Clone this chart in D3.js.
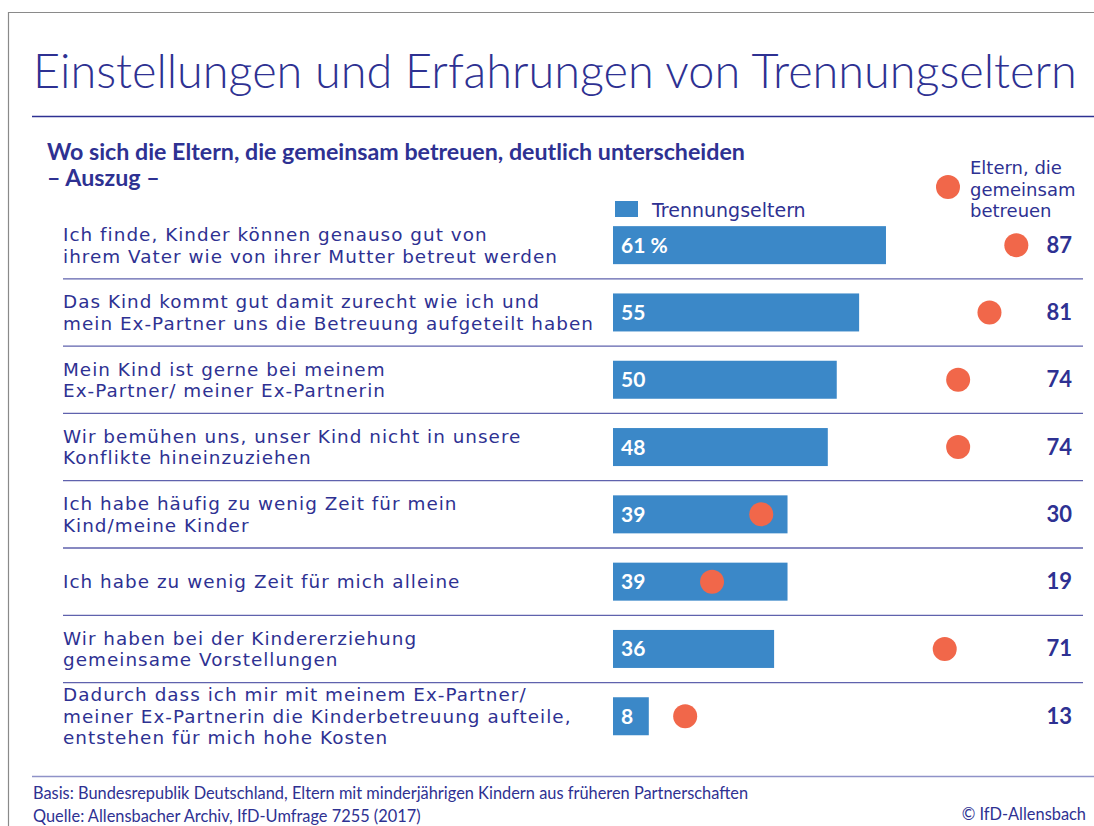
<!DOCTYPE html>
<html>
<head>
<meta charset="utf-8">
<script src="https://cdn.jsdelivr.net/npm/d3@7"></script>
<style>
  body { margin: 0; background: #fff; }
  text { font-family: Lato, "Open Sans", sans-serif; }
  .wide { font-family: "DejaVu Sans", sans-serif; }
</style>
</head>
<body>
<div id="chart"></div>
<script>
// chart data
var statements = [
  ["Ich finde, Kinder können genauso gut von", "ihrem Vater wie von ihrer Mutter betreut werden"],
  ["Das Kind kommt gut damit zurecht wie ich und", "mein Ex-Partner uns die Betreuung aufgeteilt haben"],
  ["Mein Kind ist gerne bei meinem", "Ex-Partner/ meiner Ex-Partnerin"],
  ["Wir bemühen uns, unser Kind nicht in unsere", "Konflikte hineinzuziehen"],
  ["Ich habe häufig zu wenig Zeit für mein", "Kind/meine Kinder"],
  ["Ich habe zu wenig Zeit für mich alleine"],
  ["Wir haben bei der Kindererziehung", "gemeinsame Vorstellungen"],
  ["Dadurch dass ich mir mit meinem Ex-Partner/", "meiner Ex-Partnerin die Kinderbetreuung aufteile,", "entstehen für mich hohe Kosten"]
];
var trennungseltern = [61, 55, 50, 48, 39, 39, 36, 8];
var gemeinsam = [87, 81, 74, 74, 30, 19, 71, 13];
var legendLines = ["Eltern, die", "gemeinsam", "betreuen"];

var svgWidth = 1094;
var svgHeight = 826;

var dark = "#2e3192";
var barColor = "#3b88c8";
var dotColor = "#f1674a";
var ruleColor = "#5f62ad";

var svg = d3.select("#chart")
  .append("svg")
  .attr("width", svgWidth)
  .attr("height", svgHeight);

// squeeze a text element to a wanted width by changing its font size
function fitWidth(sel, target) {
  var size = parseFloat(sel.style("font-size"));
  var w = sel.node().getComputedTextLength();
  sel.style("font-size", (size * target / w) + "px");
}

// frame
svg.append("path")
  .attr("d", "M8.5,826 V12.5 H1094")
  .attr("fill", "none")
  .attr("stroke", "#8a8a8a")
  .attr("stroke-width", 1.2);

// title
var title = svg.append("text")
  .attr("x", 33)
  .attr("y", 88)
  .style("font-size", "46px")
  .style("font-weight", 300)
  .style("fill", dark)
  .text("Einstellungen und Erfahrungen von Trennungseltern");
fitWidth(title, 1044);

svg.append("line")
  .attr("x1", 32).attr("x2", 1094)
  .attr("y1", 116.5).attr("y2", 116.5)
  .attr("stroke", dark)
  .attr("stroke-width", 1.5);

// subtitle
var sub = svg.append("text")
  .attr("x", 47)
  .attr("y", 160)
  .style("font-size", "19px")
  .style("font-weight", 700)
  .style("fill", dark)
  .text("Wo sich die Eltern, die gemeinsam betreuen, deutlich unterscheiden");
fitWidth(sub, 698);

svg.append("text")
  .attr("x", 47)
  .attr("y", 186)
  .style("font-size", sub.style("font-size"))
  .style("font-weight", 700)
  .style("fill", dark)
  .text("– Auszug –");

// scales
var x = d3.scaleLinear()
  .domain([0, 100])
  .range([613, 613 + 447.5]);

var y = d3.scaleBand()
  .domain(d3.range(statements.length))
  .range([211.5, 211.5 + 8 * 67.3]);

var barH = 38;
var dotR = 12;
var lineH = 21.5;

// label font size from the widest line, kept small enough for tight lines
var probe = svg.append("text")
  .attr("class", "wide")
  .style("font-size", "18px")
  .text(statements[1][1]);
fitWidth(probe, 531);
var labelSize = Math.min(parseFloat(probe.style("font-size")), lineH / 1.17);
probe.style("font-size", labelSize + "px");
var spacing = (531 - probe.node().getComputedTextLength()) / statements[1][1].length;
probe.remove();

var rows = svg.append("g")
  .selectAll("g")
  .data(statements)
  .enter()
  .append("g")
  .attr("transform", (d, i) => `translate(0, ${y(i) + y.bandwidth() / 2})`);

// separators
rows.filter((d, i) => i < statements.length - 1)
  .append("line")
  .attr("x1", 63).attr("x2", 1083)
  .attr("y1", y.bandwidth() / 2).attr("y2", y.bandwidth() / 2)
  .attr("stroke", ruleColor)
  .attr("stroke-width", 1.3);

// statement labels
rows.append("text")
  .attr("class", "wide")
  .attr("x", 63)
  .style("font-size", labelSize + "px")
  .style("letter-spacing", spacing + "px")
  .style("fill", dark)
  .each(function (d) {
    var t = d3.select(this);
    var y0 = -(d.length - 1) * lineH / 2 + labelSize * 0.36;
    d.forEach(function (line, k) {
      t.append("tspan")
        .attr("x", 63)
        .attr("y", y0 + k * lineH)
        .text(line);
    });
  });

// bars
rows.append("rect")
  .attr("x", x(0))
  .attr("y", -barH / 2)
  .attr("width", (d, i) => x(trennungseltern[i]) - x(0))
  .attr("height", barH)
  .attr("fill", barColor);

rows.append("text")
  .attr("x", 621)
  .attr("y", 7.5)
  .style("font-size", "21px")
  .style("font-weight", 700)
  .style("fill", "#fff")
  .text((d, i) => i === 0 ? trennungseltern[i] + " %" : trennungseltern[i]);

// dots
rows.append("circle")
  .attr("cx", (d, i) => x(gemeinsam[i]) + 14)
  .attr("cy", 0)
  .attr("r", dotR)
  .attr("fill", dotColor);

rows.append("text")
  .attr("x", 1072)
  .attr("y", 7.5)
  .attr("text-anchor", "end")
  .style("font-size", "22px")
  .style("font-weight", 700)
  .style("fill", dark)
  .text((d, i) => gemeinsam[i]);

// legend
svg.append("rect")
  .attr("x", 615).attr("y", 201)
  .attr("width", 23).attr("height", 16)
  .attr("fill", barColor);

svg.append("text")
  .attr("class", "wide")
  .attr("x", 652).attr("y", 217)
  .style("font-size", "19px")
  .style("fill", dark)
  .text("Trennungseltern");

svg.append("circle")
  .attr("cx", 948).attr("cy", 187)
  .attr("r", dotR)
  .attr("fill", dotColor);

var leg = svg.append("text")
  .attr("class", "wide")
  .style("font-size", "18px")
  .style("fill", dark);
legendLines.forEach(function (line, k) {
  leg.append("tspan")
    .attr("x", 970)
    .attr("y", 174 + k * 21.5)
    .text(line);
});

// footer
svg.append("line")
  .attr("x1", 32).attr("x2", 1094)
  .attr("y1", 776.5).attr("y2", 776.5)
  .attr("stroke", "#8f92c8")
  .attr("stroke-width", 1.5);

var basis = svg.append("text")
  .attr("x", 33).attr("y", 799)
  .style("font-size", "15px")
  .style("fill", dark)
  .text("Basis: Bundesrepublik Deutschland, Eltern mit minderjährigen Kindern aus früheren Partnerschaften");
fitWidth(basis, 716);

svg.append("text")
  .attr("x", 33).attr("y", 822)
  .style("font-size", basis.style("font-size"))
  .style("fill", dark)
  .text("Quelle: Allensbacher Archiv, IfD-Umfrage 7255 (2017)");

svg.append("text")
  .attr("x", 1086).attr("y", 820)
  .attr("text-anchor", "end")
  .style("font-size", basis.style("font-size"))
  .style("fill", dark)
  .text("© IfD-Allensbach");
</script>
</body>
</html>
